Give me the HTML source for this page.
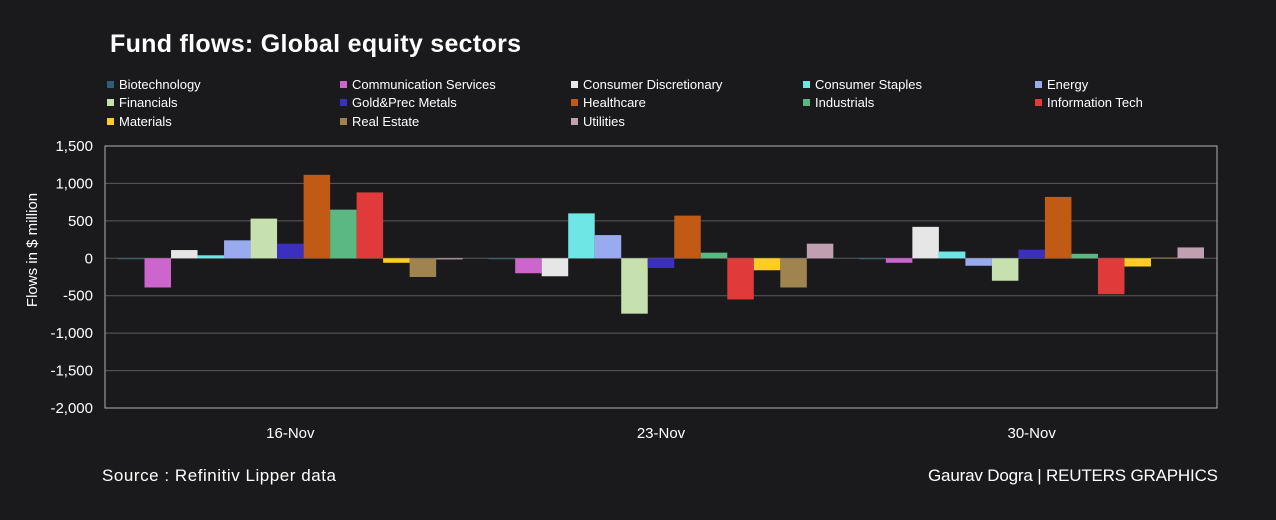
<!DOCTYPE html>
<html><head><meta charset="utf-8"><style>
body{margin:0;background:#1a1a1c;}
svg text{font-family:"Liberation Sans",sans-serif;fill:#fff;}
</style></head><body>
<svg id="c" width="1276" height="515" xmlns="http://www.w3.org/2000/svg">
<rect width="1276" height="515" fill="#1a1a1c"/>
<text x="110" y="52" font-size="25" font-weight="bold" textLength="411">Fund flows: Global equity sectors</text>
<text x="102" y="481" font-size="17" textLength="234">Source : Refinitiv Lipper data</text>
<text x="928" y="481" font-size="17" textLength="290">Gaurav Dogra | REUTERS GRAPHICS</text>
<text transform="translate(37,250) rotate(-90)" font-size="15" text-anchor="middle">Flows in $ million</text>
<g id="grid"></g><g id="bars"></g><g id="legend"></g>
</svg>
<script>
const categories=["16-Nov","23-Nov","30-Nov"];
const series=["Biotechnology","Communication Services","Consumer Discretionary","Consumer Staples","Energy","Financials","Gold&Prec Metals","Healthcare","Industrials","Information Tech","Materials","Real Estate","Utilities"];
const colors=["#2f5f78","#cc66cc","#e6e6e6","#6ee6e6","#99aaee","#c6e0b0","#3b2fc0","#c05a14","#5cb882","#e03a3a","#ffcc22","#a08450","#c0a0b0"];
const v16=[-5,-390,110,40,240,530,195,1115,650,880,-60,-250,-15];
const v23=[-5,-200,-240,600,310,-740,-130,570,75,-550,-160,-390,195];
const v30=[-10,-60,420,90,-100,-300,115,820,60,-480,-110,10,145];
const values=[v16,v23,v30];
const ticks=[1500,1000,500,0,-500,-1000,-1500,-2000];
const tickLabels=["1,500","1,000","500","0","-500","-1,000","-1,500","-2,000"];
const NS="http://www.w3.org/2000/svg";
const X0=105,X1=1217,Y0=146,Y1=408,vmax=1500,vmin=-2000;
const y=v=>Y0+(vmax-v)/(vmax-vmin)*(Y1-Y0);
const gw=(X1-X0)/categories.length,pad=13,bw=(gw-2*pad)/series.length;
function mk(t,a,p){const e=document.createElementNS(NS,t);for(const k in a)e.setAttribute(k,a[k]);p.appendChild(e);return e;}
const grid=document.getElementById('grid');
ticks.forEach((t,i)=>{
 const l=mk('line',{x1:X0,x2:X1,y1:y(t),y2:y(t),stroke:'#5a5a5a','stroke-width':1},grid);
 
 
 const tx=mk('text',{x:93,y:y(t)+5,'font-size':15,'text-anchor':'end'},grid);
 tx.textContent=tickLabels[i];
 
 
});
const fr=mk('rect',{x:X0,y:Y0,width:X1-X0,height:Y1-Y0,fill:'none',stroke:'#b0b0b0','stroke-width':1},grid);


const bars=document.getElementById('bars');
categories.forEach((c,ci)=>{
 const gx=X0+ci*gw;
 const xl=mk('text',{x:gx+gw/2,y:438,'font-size':15,'text-anchor':'middle'},bars);
 xl.textContent=c;
 
 
 series.forEach((s,si)=>{
  const v=values[ci][si],y0=y(0),yv=y(v);
  const r=mk('rect',{x:gx+pad+si*bw,y:Math.min(y0,yv),width:bw,height:Math.max(Math.abs(yv-y0),1),fill:colors[si]},bars);
  
  
 });
});
const lg=document.getElementById('legend');
const lx=[107,340,571,803,1035],ly=[85,103,122];
series.forEach((s,i)=>{
 const cx=lx[i%5],cy=ly[Math.floor(i/5)];
 const g=mk('g',{},lg);
 
 
 mk('rect',{x:cx,y:cy-4,width:7,height:7,fill:colors[i]},g);
 const t=mk('text',{x:cx+12,y:cy+4,'font-size':13},g);
 t.textContent=s;
});
</script>
</body></html>
